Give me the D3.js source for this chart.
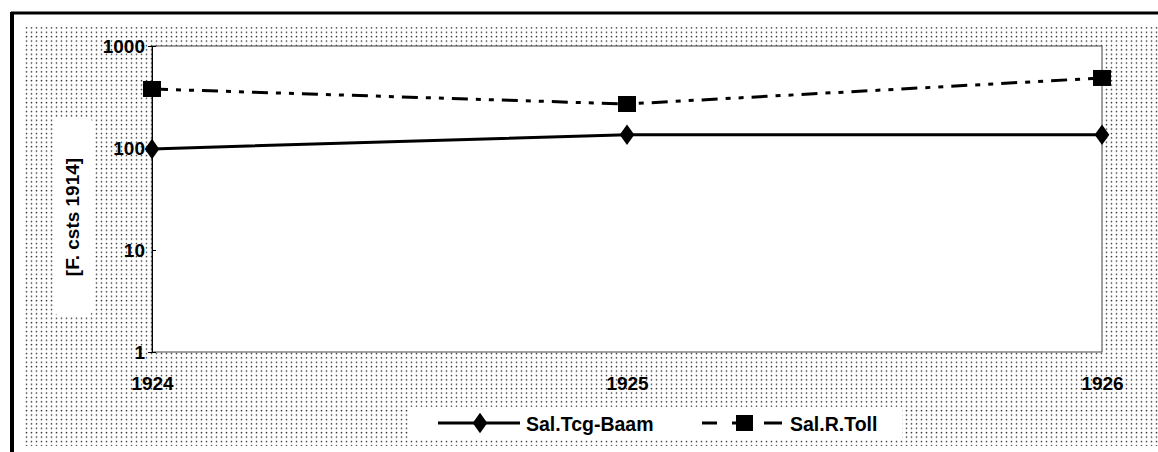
<!DOCTYPE html>
<html>
<head>
<meta charset="utf-8">
<script src="https://cdn.jsdelivr.net/npm/d3@7"></script>
<style>
  body { margin: 0; background: #fff; }
  text { font-family: "Liberation Sans", Arial, sans-serif; font-weight: bold; fill: #000; }
</style>
</head>
<body>
<div id="chart"></div>
<script>
// --- values ---
const years = ["1924", "1925", "1926"];
const tcgBaam = [98, 135, 135];
const rToll = [379, 270, 486];
const yTicks = [1, 10, 100, 1000];
const seriesNames = ["Sal.Tcg-Baam", "Sal.R.Toll"];

const W = 1158, H = 452;
const plot = { left: 152, right: 1102, top: 46, bottom: 352 };

const svg = d3.select("#chart").append("svg")
    .attr("width", W)
    .attr("height", H);

// dotted fill
const defs = svg.append("defs");
const pat = defs.append("pattern")
    .attr("id", "dots")
    .attr("width", 5).attr("height", 4.4)
    .attr("patternUnits", "userSpaceOnUse");
pat.append("rect").attr("width", 5).attr("height", 4.4).attr("fill", "#fff");
pat.append("circle").attr("cx", 1.5).attr("cy", 1.5).attr("r", 0.8).attr("fill", "#333");

svg.append("rect")
    .attr("x", 25).attr("y", 27)
    .attr("width", W - 25).attr("height", 419)
    .attr("fill", "url(#dots)");

// outer frame
svg.append("line").attr("x1", 11).attr("x2", W).attr("y1", 13).attr("y2", 13)
    .attr("stroke", "#000").attr("stroke-width", 3);
svg.append("line").attr("x1", 12).attr("x2", 12).attr("y1", 12).attr("y2", H)
    .attr("stroke", "#000").attr("stroke-width", 4);

const x = d3.scalePoint().domain(years).range([plot.left, plot.right]);
const y = d3.scaleLog().domain([1, 1000]).range([plot.bottom, plot.top]);

// plot area
svg.append("rect")
    .attr("x", plot.left).attr("y", plot.top)
    .attr("width", plot.right - plot.left).attr("height", plot.bottom - plot.top)
    .attr("fill", "#fff")
    .attr("stroke", "#444").attr("stroke-width", 1);

// y axis
const yAxis = svg.append("g")
    .attr("transform", `translate(${plot.left},0)`)
    .call(d3.axisLeft(y).tickValues(yTicks).tickFormat(d3.format("d")).tickSize(4).tickPadding(3));
yAxis.select(".domain").attr("stroke", "#000");
yAxis.selectAll("text").style("font-size", "19px").attr("font-family", null).style("font-weight", "bold");
yAxis.selectAll(".tick text").attr("dy", "0.35em");
yAxis.selectAll(".tick line").attr("x2", 4);

// x axis labels
const xAxis = svg.append("g")
    .attr("transform", `translate(0,${plot.bottom})`)
    .call(d3.axisBottom(x).tickSize(0).tickPadding(25));
xAxis.select(".domain").remove();
xAxis.selectAll("text").style("font-size", "19px").style("font-weight", "bold");

// y label box
svg.append("rect")
    .attr("x", 53).attr("y", 118)
    .attr("width", 40).attr("height", 197)
    .attr("rx", 6)
    .attr("fill", "#fff");
svg.append("text")
    .attr("transform", "translate(79,217) rotate(-90)")
    .attr("text-anchor", "middle")
    .style("font-size", "19px")
    .text("[F. csts 1914]");

const line = d3.line()
    .x((d, i) => x(years[i]))
    .y(d => y(d));

const tollDash = "16,8,5,8,5,8";

svg.append("path")
    .datum(tcgBaam)
    .attr("fill", "none").attr("stroke", "#000").attr("stroke-width", 3)
    .attr("d", line);
svg.append("path")
    .datum(rToll)
    .attr("fill", "none").attr("stroke", "#000").attr("stroke-width", 3)
    .attr("stroke-dasharray", tollDash)
    .attr("d", line);

const diamond = d3.symbol().type(d3.symbolDiamond).size(110);
svg.selectAll(".dia")
    .data(tcgBaam)
    .enter().append("path")
    .attr("class", "dia")
    .attr("transform", (d, i) => `translate(${x(years[i])},${y(d)}) scale(1.3,1.05)`)
    .attr("d", diamond)
    .attr("fill", "#000");

svg.selectAll(".sq")
    .data(rToll)
    .enter().append("rect")
    .attr("class", "sq")
    .attr("x", (d, i) => x(years[i]) - 9)
    .attr("y", d => y(d) - 8)
    .attr("width", 18).attr("height", 16)
    .attr("fill", "#000");

// legend
const lg = svg.append("g");
lg.append("rect")
    .attr("x", 410).attr("y", 407)
    .attr("width", 492).attr("height", 32)
    .attr("fill", "#fff");
lg.append("line").attr("x1", 438).attr("x2", 520).attr("y1", 423).attr("y2", 423)
    .attr("stroke", "#000").attr("stroke-width", 3);
lg.append("path").attr("d", diamond)
    .attr("transform", "translate(480,423) scale(1.3,1.05)").attr("fill", "#000");
lg.append("text").attr("x", 526).attr("y", 431).style("font-size", "19.5px")
    .text(seriesNames[0]);

lg.append("line").attr("x1", 702).attr("x2", 717).attr("y1", 423).attr("y2", 423)
    .attr("stroke", "#000").attr("stroke-width", 3);
lg.append("line").attr("x1", 732).attr("x2", 736).attr("y1", 423).attr("y2", 423)
    .attr("stroke", "#000").attr("stroke-width", 3);
lg.append("line").attr("x1", 764).attr("x2", 782).attr("y1", 423).attr("y2", 423)
    .attr("stroke", "#000").attr("stroke-width", 3);
lg.append("rect").attr("x", 736).attr("y", 415).attr("width", 17).attr("height", 16).attr("fill", "#000");
lg.append("text").attr("x", 790).attr("y", 431).style("font-size", "19.5px")
    .text(seriesNames[1]);
</script>
</body>
</html>
